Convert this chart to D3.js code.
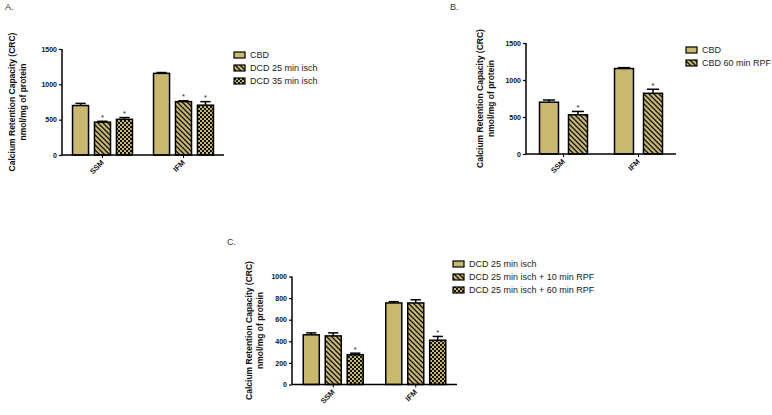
<!DOCTYPE html>
<html>
<head>
<meta charset="utf-8">
<script src="https://cdn.jsdelivr.net/npm/d3@7"></script>
<style>
  html, body { margin: 0; padding: 0; background: #fff; }
  svg { display: block; font-family: Arial, "Liberation Sans", sans-serif; }
</style>
</head>
<body>
<svg id="chart" width="772" height="415"></svg>
<script>
// ---------------- DATA ----------------
const categories = ["SSM", "IFM"];

const seriesA = ["CBD", "DCD 25 min isch", "DCD 35 min isch"];
const valuesA = [[700, 465, 505], [1155, 755, 705]];
const errorsA = [[30, 12, 25], [12, 12, 50]];
const starsA  = [[false, true, true], [false, true, true]];
const ticksA  = [0, 500, 1000, 1500];

const seriesB = ["CBD", "CBD 60 min RPF"];
const valuesB = [[700, 530], [1155, 820]];
const errorsB = [[30, 45], [12, 55]];
const starsB  = [[false, true], [false, true]];
const ticksB  = [0, 500, 1000, 1500];

const seriesC = ["DCD 25 min isch", "DCD 25 min isch + 10 min RPF", "DCD 25 min isch + 60 min RPF"];
const valuesC = [[460, 450, 275], [755, 755, 410]];
const errorsC = [[18, 28, 15], [12, 30, 35]];
const starsC  = [[false, false, true], [false, false, true]];
const ticksC  = [0, 200, 400, 600, 800, 1000];

const yTitle1 = "Calcium Retention Capacity (CRC)";
const yTitle2 = "nmol/mg of protein";

// ---------------- STYLE ----------------
const TAN = "#c9b96e";
const svg = d3.select("#chart");
const defs = svg.append("defs");

const hatch = defs.append("pattern").attr("id", "hatch")
  .attr("patternUnits", "userSpaceOnUse").attr("width", 5).attr("height", 5);
hatch.append("rect").attr("width", 5).attr("height", 5).attr("fill", TAN);
hatch.append("path").attr("d", "M0,0 L5,5 M-1,4 L1,6 M4,-1 L6,1")
  .attr("stroke", "#111").attr("stroke-width", 1.3);

const checker = defs.append("pattern").attr("id", "checker")
  .attr("patternUnits", "userSpaceOnUse").attr("width", 4).attr("height", 4);
checker.append("rect").attr("width", 4).attr("height", 4).attr("fill", TAN);
checker.append("rect").attr("width", 2).attr("height", 2).attr("fill", "#111");
checker.append("rect").attr("x", 2).attr("y", 2).attr("width", 2).attr("height", 2).attr("fill", "#111");

const fills = [TAN, "url(#hatch)", "url(#checker)"];

function drawPanel(p) {
  const g = svg.append("g");
  const y = d3.scaleLinear().domain([0, p.ymax]).range([p.y0, p.y1]);
  const x0 = d3.scaleBand().domain(categories).range([p.xL, p.xR])
    .paddingInner(p.pi0).paddingOuter(p.pi0 / 2);
  const x1 = d3.scaleBand().domain(p.series).range([0, x0.bandwidth()])
    .paddingInner(p.pi1).paddingOuter(0);

  // bars
  categories.forEach((c, ci) => {
    p.series.forEach((s, si) => {
      const v = p.values[ci][si], e = p.errors[ci][si];
      const bx = x0(c) + x1(s), bw = x1.bandwidth();
      const cx = bx + bw / 2;
      // error bar (upper)
      g.append("line").attr("x1", cx).attr("x2", cx)
        .attr("y1", y(v)).attr("y2", y(v + e))
        .attr("stroke", "#000").attr("stroke-width", 1.5);
      g.append("line").attr("x1", cx - bw * 0.32).attr("x2", cx + bw * 0.32)
        .attr("y1", y(v + e)).attr("y2", y(v + e))
        .attr("stroke", "#000").attr("stroke-width", 1.5);
      g.append("rect").attr("x", bx).attr("y", y(v))
        .attr("width", bw).attr("height", y(0) - y(v))
        .attr("fill", fills[si]).attr("stroke", "#000").attr("stroke-width", 1.5);
      if (p.stars[ci][si]) {
        g.append("text").attr("x", cx).attr("y", y(v + e) - 1.5)
          .attr("text-anchor", "middle").attr("font-size", 7.5)
          .attr("fill", "#222").text("*");
      }
    });
  });

  // y axis
  const ya = d3.axisLeft(y).tickValues(p.ticks).tickSize(3).tickPadding(2).tickFormat(d3.format("d"));
  const yg = g.append("g").attr("transform", `translate(${p.xL},0)`).call(ya);
  yg.select(".domain").attr("stroke-width", 1.5).attr("d", `M-0,${p.y0}V${p.y1}`);
  yg.selectAll(".tick line").attr("stroke-width", 1.2);
  yg.selectAll("text").attr("font-size", 7).attr("font-weight", "bold")
    .attr("font-family", "Arial, 'Liberation Sans', sans-serif").attr("fill", "#111");

  // x axis
  const xa = d3.axisBottom(x0).tickSize(3).tickFormat("");
  const xg = g.append("g").attr("transform", `translate(0,${p.y0})`).call(xa);
  xg.select(".domain").attr("stroke-width", 1.5).attr("d", `M${p.xL},0H${p.xR}`);
  xg.selectAll(".tick line").attr("stroke-width", 1);
  categories.forEach(c => {
    const cx = x0(c) + x0.bandwidth() / 2;
    g.append("text").attr("transform", `translate(${cx + 2},${p.y0 + 8}) rotate(-45)`)
      .attr("text-anchor", "end").attr("font-size", 7.5).attr("font-weight", "bold")
      .attr("fill", "#111").text(c);
  });

  // y title
  const ym = (p.y0 + p.y1) / 2;
  g.append("text").attr("transform", `translate(${p.t1},${ym}) rotate(-90)`)
    .attr("text-anchor", "middle").attr("font-size", 8.5).attr("font-weight", "bold")
    .attr("fill", "#111").text(yTitle1);
  g.append("text").attr("transform", `translate(${p.t2},${ym}) rotate(-90)`)
    .attr("text-anchor", "middle").attr("font-size", 8.5).attr("font-weight", "bold")
    .attr("fill", "#111").text(yTitle2);

  // panel label
  g.append("text").attr("x", p.lx).attr("y", p.ly).attr("font-size", 9)
    .attr("fill", "#333").text(p.label);

  // legend
  p.series.forEach((s, si) => {
    const ly = p.legY + si * 13;
    g.append("rect").attr("x", p.legX).attr("y", ly - 3).attr("width", 11).attr("height", 6)
      .attr("fill", fills[si]).attr("stroke", "#000").attr("stroke-width", 1.2);
    g.append("text").attr("x", p.legX + 16).attr("y", ly + 3.2)
      .attr("font-size", 9).attr("fill", "#222").text(s);
  });
}

drawPanel({
  series: seriesA, values: valuesA, errors: errorsA, stars: starsA, ticks: ticksA,
  ymax: 1500, y0: 155, y1: 49, xL: 62, xR: 224, pi0: 0.26, pi1: 0.27,
  t1: 15, t2: 26, label: "A.", lx: 5, ly: 10, legX: 234, legY: 55
});
drawPanel({
  series: seriesB, values: valuesB, errors: errorsB, stars: starsB, ticks: ticksB,
  ymax: 1500, y0: 154, y1: 43, xL: 526, xR: 676, pi0: 0.36, pi1: 0.345,
  t1: 483, t2: 494, label: "B.", lx: 450, ly: 10, legX: 686, legY: 50
});
drawPanel({
  series: seriesC, values: valuesC, errors: errorsC, stars: starsC, ticks: ticksC,
  ymax: 1000, y0: 384.5, y1: 276.5, xL: 292, xR: 457, pi0: 0.273, pi1: 0.27,
  t1: 252, t2: 263, label: "C.", lx: 227, ly: 245, legX: 453, legY: 264
});
</script>
</body>
</html>
